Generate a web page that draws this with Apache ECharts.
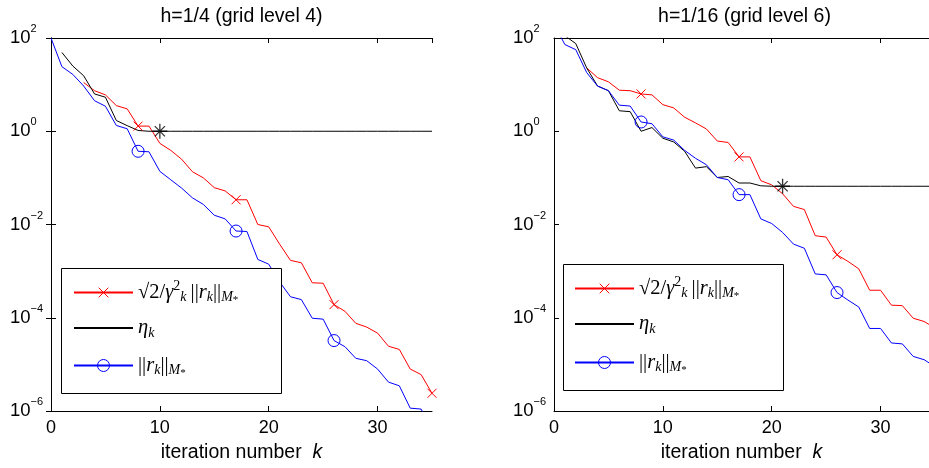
<!DOCTYPE html>
<html><head><meta charset="utf-8">
<script src="https://cdn.jsdelivr.net/npm/echarts@6/dist/echarts.min.js"></script>
<style>html,body{margin:0;padding:0;background:#fff}#c{width:929px;height:468px}</style>
</head><body><div id="c"></div>
<script>
// ---------------- data ----------------
const kValues = [0,1,2,3,4,5,6,7,8,9,10,11,12,13,14,15,16,17,18,19,20,21,22,23,24,25,26,27,28,29,30,31,32,33,34,35];

// h = 1/4 (grid level 4)
const leftBound = [null,null,null,11.1,7.41,6.03,3.55,3.02,1.29,1.29,0.550,0.389,0.251,0.135,0.100,0.0617,0.0525,0.0339,0.0339,0.0100,0.00891,0.00380,0.00170,0.00151,5.62e-4,5.50e-4,1.91e-4,1.38e-4,7.59e-5,6.31e-5,4.68e-5,2.45e-5,2.09e-5,7.94e-6,6.03e-6,2.40e-6];
const leftEta = [null,49.0,25.1,15.5,6.31,5.37,1.70,1.32,1.04,1.0,1,1,1,1,1,1,1,1,1,1,1,1,1,1,1,1,1,1,1,1,1,1,1,1,1,1];
const leftResidual = [100,24.3,16.6,9.33,4.52,3.44,1.33,1.13,0.372,0.363,0.138,0.0912,0.0603,0.0372,0.0269,0.0158,0.0132,0.00724,0.00708,0.00178,0.00141,5.89e-4,2.82e-4,2.45e-4,9.77e-5,9.33e-5,3.24e-5,2.40e-5,1.35e-5,1.20e-5,7.94e-6,4.17e-6,3.47e-6,1.15e-6,1.10e-6,4.0e-7];

// h = 1/16 (grid level 6)
const rightBound = [null,null,null,22.9,14.1,11.5,7.59,7.41,6.31,6.03,3.72,3.16,2.00,1.51,1.12,0.617,0.575,0.282,0.282,0.0871,0.0708,0.0457,0.0245,0.0209,0.00575,0.00537,0.00224,0.00162,0.00112,3.89e-4,3.89e-4,1.86e-4,1.82e-4,9.77e-5,8.32e-5,6.03e-5];
const rightEta = [null,112,75.9,22.9,9.33,7.41,2.75,2.63,1.0,1.20,0.708,0.589,0.372,0.162,0.174,0.102,0.107,0.0776,0.0776,0.0676,0.0661,0.0661,0.0661,0.0661,0.0661,0.0661,0.0661,0.0661,0.0661,0.0661,0.0661,0.0661,0.0661,0.0661,0.0661,0.0661];
const rightResidual = [200,72.4,56.2,18.2,9.33,7.41,3.63,3.47,1.58,1.45,0.759,0.646,0.389,0.263,0.191,0.102,0.0912,0.0437,0.0437,0.0132,0.0105,0.00676,0.00380,0.00309,8.71e-4,8.32e-4,3.47e-4,2.40e-4,1.70e-4,5.89e-5,5.89e-5,2.88e-5,2.75e-5,1.48e-5,1.26e-5,8.91e-6];

const markerIters = [8,17,26,35];
const etaStopLeft = 10;
const etaStopRight = 21;

const titles = ['h=1/4 (grid level 4)', 'h=1/16 (grid level 6)'];
// x range: left panel shows 0..35; right panel is cut by the picture edge at about k = 34.45
const xMax = [35, 34.45];
const xTicks = {min: 0, interval: 10};
const yRange = {min: 1e-6, max: 100, intervalExp: 2};
const seriesNames = ['bound', 'eta', 'res'];

// ---------------- chart ----------------
const FONT = 'Liberation Sans';
const SERIF = 'Liberation Serif';
const RED = '#ff0000', BLUE = '#0000ff', BLACK = '#000000';
const CROSS = 'path://M0,0L10,10M10,0L0,10';
const STAR = 'path://M5,0L5,10M0,5L10,5M1.6,1.6L8.4,8.4M8.4,1.6L1.6,8.4';

const grids = [
  {left: 51, top: 38, width: 381, height: 377},
  {left: 554, top: 38, width: 375, height: 377}
];

const xAxes = [], yAxes = [];
grids.forEach((g, gi) => {
  const baseX = {
    type: 'value', gridIndex: gi, min: xTicks.min, max: xMax[gi], interval: xTicks.interval,
    axisLine: {show: true, onZero: false, lineStyle: {color: BLACK, width: 1}},
    axisTick: {show: true, inside: true, length: 5, lineStyle: {color: BLACK, width: 1}},
    splitLine: {show: false}
  };
  xAxes.push(Object.assign({}, baseX, {
    position: 'bottom',
    axisLabel: {show: true, color: BLACK, fontSize: 18, fontFamily: FONT, margin: 8, showMaxLabel: false},
    name: '{t|iteration number  }{i|k}', nameLocation: 'middle', nameGap: 32,
    nameTextStyle: {rich: {
      t: {fontSize: 19.5, fontFamily: FONT, color: BLACK},
      i: {fontSize: 19.5, fontFamily: FONT, fontStyle: 'italic', color: BLACK}
    }}
  }));
  xAxes.push(Object.assign({}, baseX, {position: 'top', axisLabel: {show: false}}));
  const baseY = {
    type: 'log', logBase: 10, gridIndex: gi, min: yRange.min, max: yRange.max, interval: yRange.intervalExp,
    axisLine: {show: true, onZero: false, lineStyle: {color: BLACK, width: 1}},
    axisTick: {show: true, inside: true, length: 5, lineStyle: {color: BLACK, width: 1}},
    splitLine: {show: false}, minorTick: {show: false}
  };
  yAxes.push(Object.assign({}, baseY, {
    position: 'left',
    axisLabel: {
      show: true, align: 'left', margin: 41,
      formatter: v => {
        const e = Math.round(Math.log10(v));
        return '{b|10}{s|' + (e < 0 ? '\u2212' : '') + Math.abs(e) + '}';
      },
      rich: {
        b: {fontSize: 18.5, fontFamily: FONT, color: BLACK},
        s: {fontSize: 11, fontFamily: FONT, color: BLACK, padding: [0, 0, 18, 0]}
      }
    }
  }));
  // mirrored right axis (the right panel's right edge lies outside the picture)
  yAxes.push(Object.assign({}, baseY, {
    position: 'right', axisLabel: {show: false},
    axisLine: {show: gi === 0, lineStyle: {color: BLACK, width: 1}},
    axisTick: {show: gi === 0, inside: true, length: 5, lineStyle: {color: BLACK, width: 1}}
  }));
});

function buildLine(name, values, gi, color, symbol, symbolSize, itemStyle, useMarkers) {
  const data = [];
  values.forEach((v, i) => {
    if (v == null) return;
    const k = kValues[i];
    data.push({value: [k, v], symbol: (useMarkers && markerIters.includes(k)) ? symbol : 'none'});
  });
  return {
    type: 'line', name: name, xAxisIndex: gi * 2, yAxisIndex: gi * 2,
    data: data, symbol: symbol, symbolSize: symbolSize, showAllSymbol: true,
    lineStyle: {color: color, width: 1}, itemStyle: itemStyle,
    emphasis: {disabled: true}, clip: true, z: 2
  };
}

const series = [];
[[leftBound, leftEta, leftResidual, etaStopLeft], [rightBound, rightEta, rightResidual, etaStopRight]].forEach((set, gi) => {
  series.push(buildLine('bound', set[0], gi, RED, CROSS, 9, {color: 'none', borderColor: RED, borderWidth: 1}, true));
  series.push(buildLine('eta', set[1], gi, BLACK, 'none', 1, {color: 'transparent', borderColor: 'transparent', borderWidth: 0}, false));
  series.push(buildLine('res', set[2], gi, BLUE, 'circle', 12, {color: 'none', borderColor: BLUE, borderWidth: 1}, true));
  series.push({
    type: 'scatter', name: 'stop', xAxisIndex: gi * 2, yAxisIndex: gi * 2,
    data: [[kValues[set[3]], set[1][set[3]]]],
    symbol: STAR, symbolSize: 15,
    itemStyle: {color: 'none', borderColor: BLACK, borderWidth: 1.3}, z: 3,
    emphasis: {disabled: true}
  });
});

const legendRich = {
  n: {fontFamily: SERIF, fontSize: 20.5, color: BLACK},
  i: {fontFamily: SERIF, fontSize: 20.5, fontStyle: 'italic', color: BLACK},
  sb: {fontFamily: SERIF, fontSize: 14, fontStyle: 'italic', color: BLACK, padding: [10, 0, 0, 0]},
  sp: {fontFamily: SERIF, fontSize: 14, color: BLACK, padding: [0, 0, 13, 0]},
  ss: {fontFamily: SERIF, fontSize: 11, color: BLACK, padding: [16, 0, 0, 0]}
};
const legendLabels = {
  bound: '{n|\u221A2/}{i|\u03B3}{sp|2}{sb|k}{n|\u2009||}{i|r}{sb|k}{n|||}{sb|M}{ss|*}',
  eta: '{i|\u03B7}{sb|k}',
  res: '{n|||}{i|r}{sb|k}{n|||}{sb|M}{ss|*}'
};
const legendItems = {
  bound: {itemHeight: 12, itemStyle: {color: 'none', borderColor: RED, borderWidth: 1}},
  eta: {itemHeight: 12, itemStyle: {color: 'transparent', borderColor: 'transparent', borderWidth: 0}},
  res: {itemHeight: 15, itemStyle: {color: 'none', borderColor: BLUE, borderWidth: 1}}
};

const legendBoxes = [
  {x: 61, y: 268, w: 220, h: 125, left: 73, rows: [293, 332, 369]},
  {x: 563, y: 264, w: 220, h: 126, left: 574, rows: [289, 328, 366]}
];
const legends = [];
const graphics = [];
legendBoxes.forEach(b => {
  graphics.push({
    type: 'rect', z: 3,
    shape: {x: b.x + 0.5, y: b.y + 0.5, width: b.w, height: b.h},
    style: {fill: '#ffffff', stroke: BLACK, lineWidth: 1}
  });
  seriesNames.forEach((nm, r) => {
    legends.push({
      data: [{name: nm, itemStyle: legendItems[nm].itemStyle}],
      orient: 'vertical', left: b.left, top: b.rows[r] - 14,
      itemWidth: 59, itemHeight: legendItems[nm].itemHeight, padding: 0, selectedMode: false, z: 10,
      formatter: name => legendLabels[name],
      textStyle: {rich: legendRich}
    });
  });
});

const titleOpts = titles.map((t, gi) => ({
  text: t, left: grids[gi].left + 381 / 2, top: 7, textAlign: 'center', padding: 0,
  textStyle: {fontFamily: FONT, fontSize: 19.5, fontWeight: 'normal', color: BLACK}
}));

const chart = echarts.init(document.getElementById('c'), null, {renderer: 'canvas'});
chart.setOption({
  animation: false,
  backgroundColor: '#ffffff',
  title: titleOpts,
  grid: grids,
  xAxis: xAxes,
  yAxis: yAxes,
  legend: legends,
  graphic: graphics,
  series: series
});
</script></body></html>
